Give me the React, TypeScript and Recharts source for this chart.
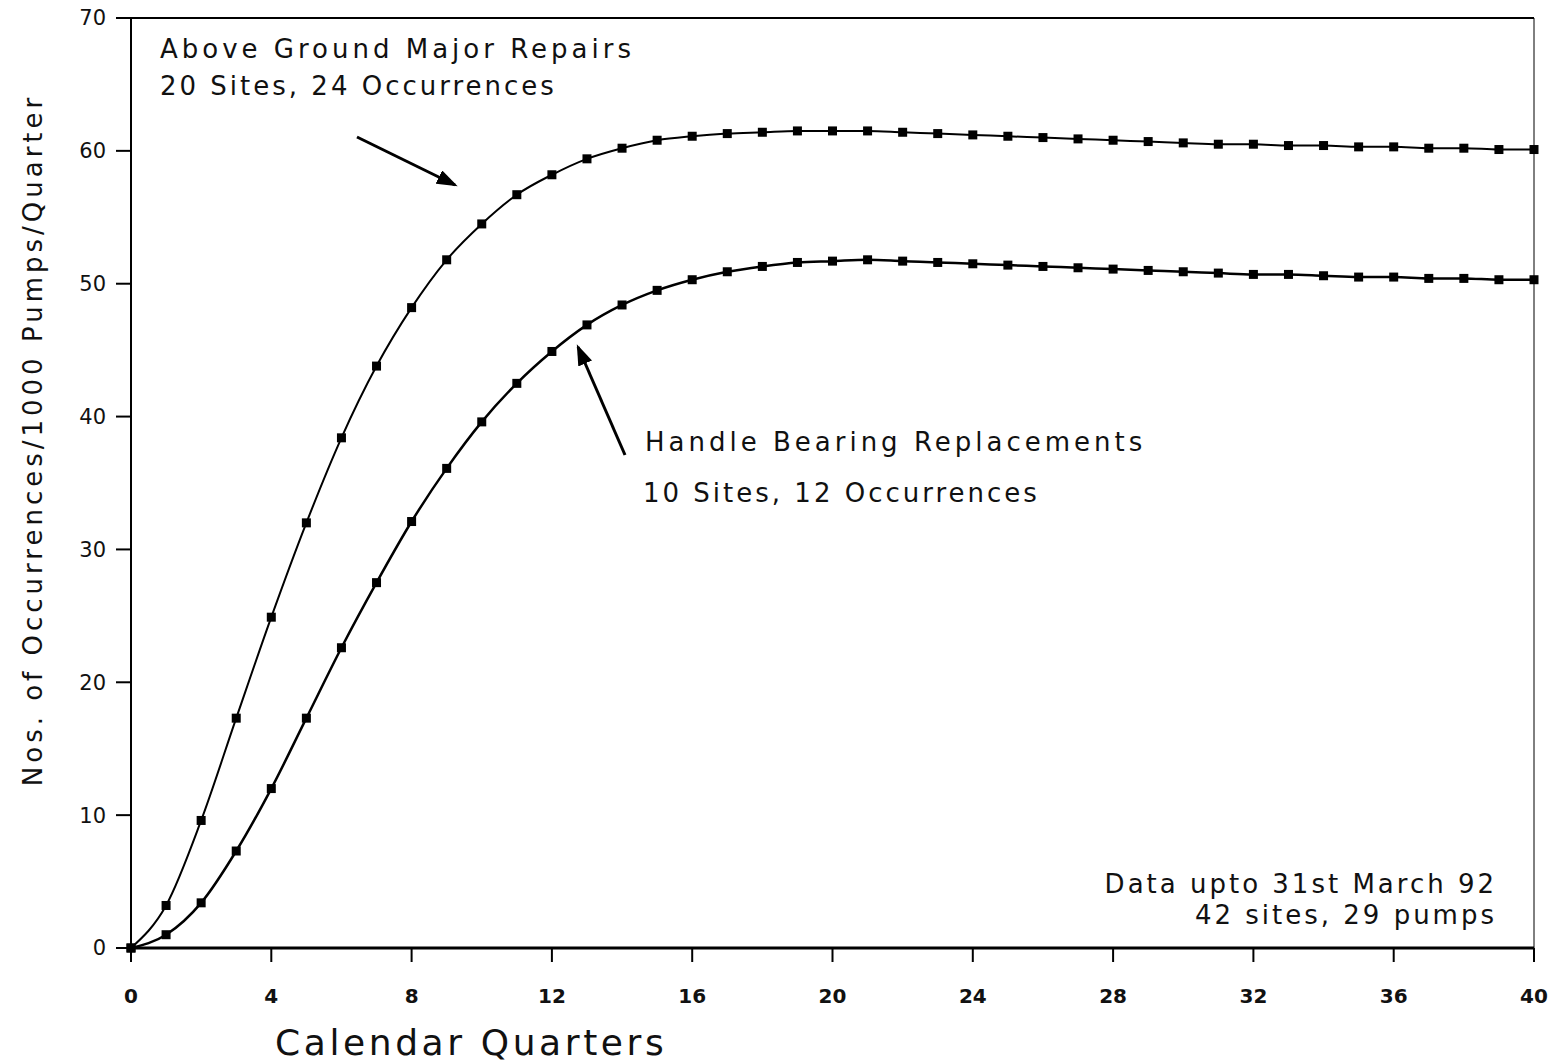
import React from 'react'
import { LineChart, Line, XAxis, YAxis, ReferenceLine } from 'recharts'

// calendar quarters 0..40
const quarters = Array.from({ length: 41 }, (_, i) => i)

const aboveGround = [
  0, 3.2, 9.6, 17.3, 24.9, 32.0, 38.4, 43.8, 48.2, 51.8,
  54.5, 56.7, 58.2, 59.4, 60.2, 60.8, 61.1, 61.3, 61.4, 61.5,
  61.5, 61.5, 61.4, 61.3, 61.2, 61.1, 61.0, 60.9, 60.8, 60.7,
  60.6, 60.5, 60.5, 60.4, 60.4, 60.3, 60.3, 60.2, 60.2, 60.1, 60.1,
]

const handleBearing = [
  0, 1.0, 3.4, 7.3, 12.0, 17.3, 22.6, 27.5, 32.1, 36.1,
  39.6, 42.5, 44.9, 46.9, 48.4, 49.5, 50.3, 50.9, 51.3, 51.6,
  51.7, 51.8, 51.7, 51.6, 51.5, 51.4, 51.3, 51.2, 51.1, 51.0,
  50.9, 50.8, 50.7, 50.7, 50.6, 50.5, 50.5, 50.4, 50.4, 50.3, 50.3,
]

const xTicks = [0, 4, 8, 12, 16, 20, 24, 28, 32, 36, 40]
const yTicks = [0, 10, 20, 30, 40, 50, 60, 70]

const data = quarters.map((q, i) => ({
  q,
  above: aboveGround[i],
  handle: handleBearing[i],
}))

const FONT = '"DejaVu Sans", sans-serif'

const SquareDot = (props: any) => {
  const { cx, cy, index } = props
  if (cx == null || cy == null) return <g key={`d-${index}`} />
  return <rect key={`d-${index}`} x={cx - 4.5} y={cy - 4.5} width={9} height={9} fill="#000" />
}

export default function App() {
  const annot = { fontFamily: FONT, fontSize: 26, fill: '#111' }
  return (
    <div style={{ position: 'absolute', left: 0, top: 0, width: 1553, height: 1064, background: '#fff' }}>
      <LineChart width={1553} height={1064} data={data} margin={{ top: 18, right: 19, left: 0, bottom: 0 }}>
        <XAxis
          dataKey="q"
          type="number"
          domain={[0, 40]}
          ticks={xTicks}
          height={116}
          tickSize={14}
          tickMargin={27}
          axisLine={{ stroke: '#000', strokeWidth: 3 }}
          tickLine={{ stroke: '#000', strokeWidth: 2 }}
          tick={{ fill: '#111', fontSize: 20, fontWeight: 'bold', fontFamily: FONT }}
        />
        <YAxis
          type="number"
          domain={[0, 70]}
          ticks={yTicks}
          width={131}
          tickSize={15}
          tickMargin={10}
          axisLine={{ stroke: '#000', strokeWidth: 2 }}
          tickLine={{ stroke: '#000', strokeWidth: 2 }}
          tick={{ fill: '#111', fontSize: 21, fontFamily: FONT }}
        />
        <ReferenceLine y={70} stroke="#000" strokeWidth={2} />
        <ReferenceLine x={40} stroke="#000" strokeWidth={1} />
        <Line
          type="monotone"
          dataKey="above"
          stroke="#000"
          strokeWidth={2}
          dot={SquareDot}
          isAnimationActive={false}
        />
        <Line
          type="monotone"
          dataKey="handle"
          stroke="#000"
          strokeWidth={2.5}
          dot={SquareDot}
          isAnimationActive={false}
        />
      </LineChart>
      <svg
        width={1553}
        height={1064}
        style={{ position: 'absolute', left: 0, top: 0, pointerEvents: 'none' }}
      >
        <defs>
          <marker id="head" markerWidth="7" markerHeight="5" refX="6" refY="2.5" orient="auto" markerUnits="strokeWidth">
            <path d="M0,0 L7,2.5 L0,5 Z" fill="#000" />
          </marker>
        </defs>
        <text x={160} y={58} letterSpacing={4} {...annot}>Above Ground Major Repairs</text>
        <text x={160} y={95} letterSpacing={3} {...annot}>20 Sites, 24 Occurrences</text>
        <line x1={357} y1={137} x2={455} y2={185} stroke="#000" strokeWidth={3} markerEnd="url(#head)" />
        <line x1={625} y1={455} x2={578} y2={347} stroke="#000" strokeWidth={3} markerEnd="url(#head)" />
        <text x={645} y={451} letterSpacing={4} {...annot}>Handle Bearing Replacements</text>
        <text x={643} y={502} letterSpacing={3} {...annot}>10 Sites, 12 Occurrences</text>
        <text x={1497} y={893} textAnchor="end" letterSpacing={3} {...annot}>Data upto 31st March 92</text>
        <text x={1497} y={924} textAnchor="end" letterSpacing={3} {...annot}>42 sites, 29 pumps</text>
        <text
          x={0}
          y={0}
          transform="translate(42,440) rotate(-90)"
          textAnchor="middle"
          style={{ fontFamily: FONT, fontSize: 26, letterSpacing: 4, fill: '#111' }}
        >
          Nos. of Occurrences/1000 Pumps/Quarter
        </text>
        <text x={275} y={1055} style={{ fontFamily: FONT, fontSize: 36, letterSpacing: 3.6, fill: '#111' }}>
          Calendar Quarters
        </text>
      </svg>
    </div>
  )
}
